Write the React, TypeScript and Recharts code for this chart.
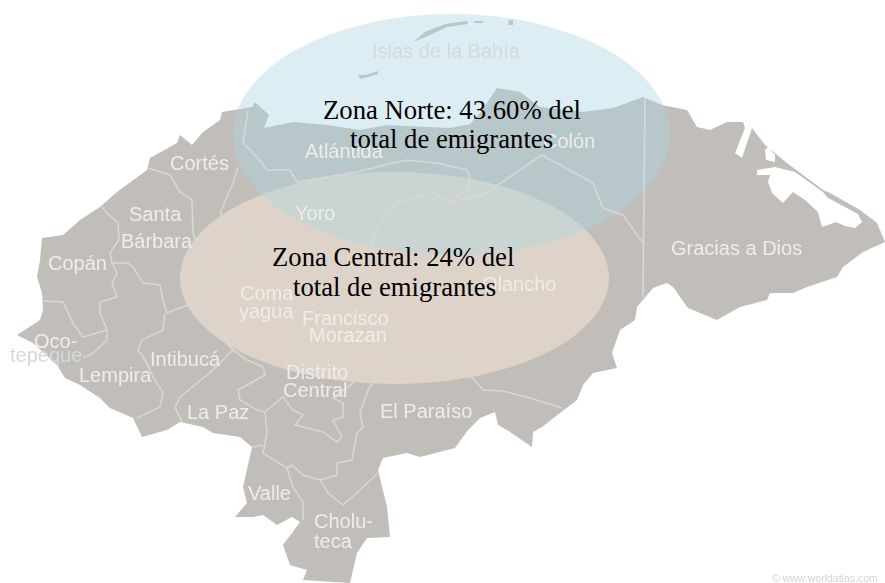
import { ScatterChart, Scatter, XAxis, YAxis, ReferenceArea } from "recharts";

const CHART_W = 885;
const CHART_H = 583;

type Pt = { x: number; y: number };
const pts = (raw: number[][]): Pt[] => raw.map(([x, y]) => ({ x, y }));

// coast, clockwise from the Ocotepeque tip
const coast = pts([
  [17, 335], [40, 320], [43, 310], [42, 293], [37, 277], [40, 260], [42, 238], [63, 235], [80, 220], [100, 207],
  [117, 192], [147, 170], [150, 158], [177, 143], [180, 135], [192, 145], [203, 132], [220, 120], [222, 112], [252, 107],
  [255, 102], [269, 115], [264, 128], [293, 122], [327, 125], [360, 130], [387, 125], [427, 127], [450, 128], [470, 124],
  [480, 113], [497, 88], [520, 92], [540, 107], [550, 108], [583, 112], [613, 108], [643, 97], [662, 105], [687, 110],
  [697, 127], [710, 130], [727, 122], [743, 122], [745, 128], [735, 153], [742, 158], [752, 128], [765, 145], [787, 163],
  [823, 190], [830, 193], [860, 210], [877, 223], [885, 242], [863, 252], [843, 267], [837, 277], [807, 287], [793, 293],
  [770, 293], [767, 300], [740, 307], [717, 320], [688, 308], [673, 287], [667, 283], [653, 288], [637, 307], [635, 320],
  [620, 330], [612, 353], [617, 368], [593, 373], [583, 385], [577, 400], [560, 413], [542, 427], [533, 432], [532, 447],
  [507, 430], [498, 425], [495, 412], [480, 418], [468, 430], [455, 448], [420, 457], [407, 453], [383, 458], [378, 470],
  [387, 507], [390, 537], [367, 538], [357, 553], [350, 583], [303, 580], [307, 570], [290, 565], [283, 545], [292, 533],
  [300, 522], [292, 517], [277, 525], [263, 515], [253, 517], [235, 517], [247, 503], [243, 487], [252, 447], [240, 437],
  [213, 433], [203, 427], [180, 422], [167, 430], [142, 437], [133, 418], [110, 408], [100, 398], [80, 385], [65, 378],
  [57, 365], [33, 343],
]);

const lagoon = pts([
  [757, 170], [775, 167], [795, 172], [823, 192], [828, 198], [845, 207], [858, 214], [862, 222], [855, 228], [845, 226],
  [836, 222], [822, 227], [818, 212], [805, 200], [793, 192], [783, 203], [772, 193], [768, 182], [770, 175], [757, 175],
]);
const pocket = pts([[768, 147], [775, 155], [775, 162], [766, 160], [765, 150]]);
const roatan = pts([[413, 42], [425, 32], [445, 24], [467, 21], [468, 24], [447, 27], [428, 36]]);
const utila = pts([[358, 75], [366, 75], [378, 71], [378, 74], [368, 77], [360, 79]]);
const guanaja = pts([[474, 21], [483, 21], [483, 23], [474, 23]]);
const swan = pts([[509, 20], [513, 20], [513, 25], [508, 25]]);

const borders = [
  [[148, 168], [170, 175], [180, 192], [192, 200], [193, 233], [200, 253], [197, 267], [204, 280], [203, 292], [193, 303], [167, 313], [163, 300], [160, 285], [143, 283], [133, 267], [128, 263], [112, 263], [110, 253], [119, 240], [118, 223], [107, 213], [102, 207]],
  [[112, 263], [117, 273], [112, 283], [117, 297], [100, 302], [100, 313], [107, 330], [83, 337], [73, 323], [63, 302], [43, 301]],
  [[107, 330], [107, 340], [93, 353], [83, 358]],
  [[165, 313], [163, 330], [142, 340], [138, 350], [147, 363], [153, 377], [163, 393], [160, 407], [137, 418]],
  [[193, 303], [207, 313], [220, 333], [233, 350], [213, 370], [180, 397], [175, 407], [182, 422]],
  [[233, 350], [247, 360], [263, 367], [265, 375], [238, 390], [240, 400], [257, 410], [265, 412], [283, 397], [293, 410], [303, 415], [295, 425], [323, 432], [337, 442], [342, 437], [333, 420], [343, 417], [343, 403], [333, 398], [353, 383]],
  [[265, 412], [267, 433], [263, 453], [287, 468], [293, 487], [303, 502], [303, 520]],
  [[253, 447], [263, 445]],
  [[287, 468], [292, 465], [303, 475], [320, 480], [328, 493], [343, 505], [360, 490], [378, 473]],
  [[320, 480], [337, 475], [337, 463], [352, 460], [357, 433], [363, 427], [360, 413], [368, 390], [377, 377], [382, 370], [400, 360], [407, 358], [423, 358], [447, 370], [460, 365], [472, 377], [483, 390], [503, 391], [530, 398], [562, 408]],
  [[402, 357], [397, 333], [377, 303], [373, 277], [370, 247], [377, 227], [397, 203], [433, 193], [450, 202], [483, 195], [542, 155], [593, 183], [603, 208], [623, 215], [643, 243]],
  [[645, 98], [643, 297]],
  [[248, 110], [243, 143], [257, 157], [267, 170], [290, 170], [297, 182], [357, 172], [393, 163], [407, 160], [437, 163], [467, 170], [470, 177], [467, 190], [450, 202]],
  [[238, 167], [233, 183], [220, 213], [248, 237], [248, 260], [203, 290]],
  [[249, 253], [270, 250], [297, 263], [330, 263], [370, 273]],
  [[320, 297], [300, 320], [288, 340], [300, 357], [313, 363], [343, 357], [347, 367], [353, 383]],
  [[200, 313], [217, 323], [230, 347]],
].map(pts);

const placeNames = [
  { x: 170, y: 170, name: "Cortés" },
  { x: 129, y: 221, name: "Santa" },
  { x: 121, y: 248, name: "Bárbara" },
  { x: 48, y: 270, name: "Copán" },
  { x: 34, y: 348, name: "Oco-" },
  { x: 79, y: 382, name: "Lempira" },
  { x: 150, y: 366, name: "Intibucá" },
  { x: 187, y: 419, name: "La Paz" },
  { x: 240, y: 300, name: "Coma" },
  { x: 239, y: 318, name: "yagua" },
  { x: 302, y: 325, name: "Francisco" },
  { x: 309, y: 342, name: "Morazan" },
  { x: 286, y: 379, name: "Distrito" },
  { x: 283, y: 397, name: "Central" },
  { x: 380, y: 418, name: "El Paraíso" },
  { x: 248, y: 500, name: "Valle" },
  { x: 314, y: 528, name: "Cholu-" },
  { x: 314, y: 548, name: "teca" },
  { x: 671, y: 255, name: "Gracias a Dios" },
  { x: 482, y: 291, name: "Olancho" },
  { x: 543, y: 148, name: "Colón" },
  { x: 305, y: 158, name: "Atlántida" },
  { x: 295, y: 220, name: "Yoro" },
];
const seaNames = [
  { x: 372, y: 58, name: "Islas de la Bahía" },
  { x: 10, y: 362, name: "tepeque" },
];
const creditNames = [{ x: 772, y: 582, name: "© www.worldatlas.com" }];

const centralText = [
  { x: 272, y: 266, name: "Zona Central: 24% del" },
  { x: 293, y: 296, name: "total de emigrantes" },
];
const norteText = [
  { x: 323, y: 119, name: "Zona Norte: 43.60% del" },
  { x: 350, y: 148, name: "total de emigrantes" },
];

const polygonShape = (rings: Pt[][], fills: string[]) => (props: any) => {
  const sx = props.width / CHART_W;
  const sy = props.height / CHART_H;
  return (
    <g style={{ filter: "blur(0.5px)" }}>
      {rings.map((ring, i) => (
        <polygon
          key={i}
          points={ring.map((p) => `${props.x + p.x * sx},${props.y + p.y * sy}`).join(" ")}
          fill={fills[i]}
        />
      ))}
    </g>
  );
};

const ellipseShape = (fill: string, opacity: number) => (props: any) => (
  <ellipse
    cx={props.x + props.width / 2}
    cy={props.y + props.height / 2}
    rx={props.width / 2}
    ry={props.height / 2}
    fill={fill}
    fillOpacity={opacity}
  />
);

const textShape = (fill: string, size: number, family: string, blur = 0) => (props: any) => (
  <text
    x={props.cx}
    y={props.cy}
    fill={fill}
    fontSize={size}
    fontFamily={family}
    style={blur ? { filter: `blur(${blur}px)` } : undefined}
  >
    {props.payload.name}
  </text>
);

const SANS = "'Liberation Sans', Arial, sans-serif";
const SERIF = "'Liberation Serif', 'Times New Roman', serif";
const LAND = "#c1beb9";
const SEA = "#ffffff";

export default function App() {
  return (
    <div style={{ position: "absolute", left: 0, top: 0, width: CHART_W, height: CHART_H, overflow: "hidden" }}>
      <ScatterChart width={CHART_W} height={CHART_H} margin={{ top: 0, right: 0, bottom: 0, left: 0 }}>
        <XAxis type="number" dataKey="x" domain={[0, CHART_W]} hide />
        <YAxis type="number" dataKey="y" domain={[0, CHART_H]} reversed hide />

        <ReferenceArea
          x1={0}
          x2={CHART_W}
          y1={0}
          y2={CHART_H}
          shape={polygonShape([coast, lagoon, pocket, roatan, utila, guanaja, swan], [LAND, SEA, SEA, LAND, LAND, LAND, LAND])}
        />
        {borders.map((b, i) => (
          <Scatter
            key={i}
            data={b}
            line={{ stroke: "#d9d7d2", strokeWidth: 1.6 }}
            shape={() => null}
            isAnimationActive={false}
          />
        ))}
        <Scatter data={placeNames} shape={textShape("#efedea", 20, SANS, 0.4)} isAnimationActive={false} />
        <Scatter data={seaNames} shape={textShape("#d6d8da", 20, SANS, 0.4)} isAnimationActive={false} />
        <Scatter data={creditNames} shape={textShape("#d4d4d4", 10.5, SANS, 0.6)} isAnimationActive={false} />

        <ReferenceArea x1={180} x2={609} y1={172} y2={384} shape={ellipseShape("rgb(231,218,207)", 0.75)} />
        <Scatter data={centralText} shape={textShape("#000000", 26.7, SERIF)} isAnimationActive={false} />
        <ReferenceArea x1={233} x2={670} y1={14} y2={255} shape={ellipseShape("rgb(171,214,226)", 0.42)} />
        <Scatter data={norteText} shape={textShape("#000000", 26.7, SERIF)} isAnimationActive={false} />
      </ScatterChart>
    </div>
  );
}
